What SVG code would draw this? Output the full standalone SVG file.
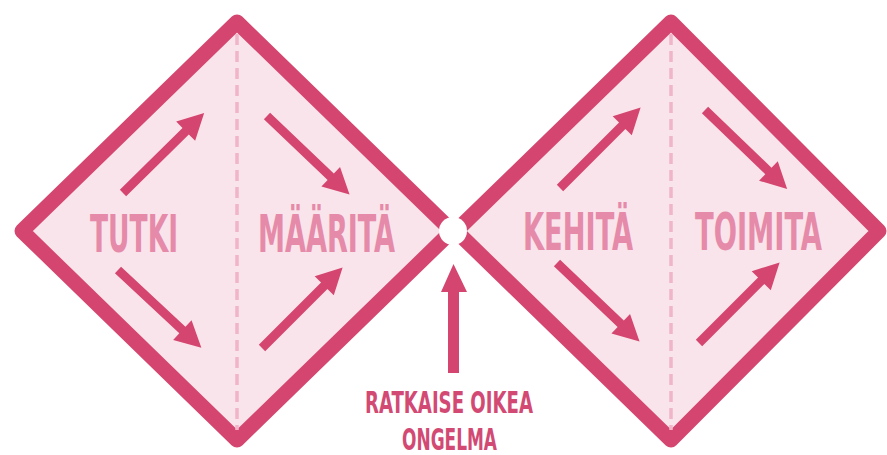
<svg xmlns="http://www.w3.org/2000/svg" xmlns:xlink="http://www.w3.org/1999/xlink" width="887" height="455" viewBox="0 0 887 455">
<style>
.dia{fill:#fae4eb;stroke:#d4466f;stroke-width:15;stroke-linejoin:round}
.dash{stroke:#f0b5c9;stroke-width:3.5;stroke-dasharray:11 6;fill:none}
.lbl{font-family:"Liberation Sans Narrow","DejaVu Sans Condensed","Liberation Sans",sans-serif;font-weight:bold;font-size:51px;fill:#e68aaa}
.bot{font-family:"Liberation Sans Narrow","DejaVu Sans Condensed","Liberation Sans",sans-serif;font-weight:bold;font-size:31px;fill:#d24a74}
.arr{fill:#d4466f}
</style>
<defs>
<path id="arr" d="M0,-4.5 L88,-4.5 L88,-13.5 L114,0 L88,13.5 L88,4.5 L0,4.5 Z"/>
</defs>
<g id="diamond-left">
<polygon class="dia" points="237,22 452,231 237,440 22,231"/>
<line class="dash" x1="237" y1="34" x2="237" y2="430"/>
</g>
<g id="diamond-right">
<polygon class="dia" points="671,22 879,231 671,440 456,231"/>
<line class="dash" x1="671" y1="34" x2="671" y2="430"/>
</g>
<g id="center-point">
<circle cx="453" cy="231" r="14" fill="#ffffff"/>
</g>
<g id="label-tutki"><text class="lbl" x="90" y="252" textLength="88" lengthAdjust="spacingAndGlyphs">TUTKI</text></g>
<g id="label-maarita"><text class="lbl" x="258" y="252" textLength="137" lengthAdjust="spacingAndGlyphs">MÄÄRITÄ</text></g>
<g id="label-kehita"><text class="lbl" x="523" y="250" textLength="110" lengthAdjust="spacingAndGlyphs">KEHITÄ</text></g>
<g id="label-toimita"><text class="lbl" x="695" y="250" textLength="127" lengthAdjust="spacingAndGlyphs">TOIMITA</text></g>
<g id="label-ratkaise">
<text class="bot" x="365" y="413" textLength="168" lengthAdjust="spacingAndGlyphs">RATKAISE OIKEA</text>
<text class="bot" x="402" y="450" textLength="95" lengthAdjust="spacingAndGlyphs">ONGELMA</text>
</g>
<g id="connectors" class="arr">
<use xlink:href="#arr" transform="translate(123,193) rotate(-44.6)"/>
<use xlink:href="#arr" transform="translate(118,270) rotate(43)"/>
<use xlink:href="#arr" transform="translate(267,116) rotate(43.6)"/>
<use xlink:href="#arr" transform="translate(262,348) rotate(-45)"/>
<use xlink:href="#arr" transform="translate(560,188) rotate(-45)"/>
<use xlink:href="#arr" transform="translate(557,263) rotate(43.6)"/>
<use xlink:href="#arr" transform="translate(705,110) rotate(43.9)"/>
<use xlink:href="#arr" transform="translate(699,343) rotate(-45)"/>
<path d="M448,373 L448,292 L441,292 L453.5,264 L467,292 L459,292 L459,373 Z"/>
</g>
</svg>
